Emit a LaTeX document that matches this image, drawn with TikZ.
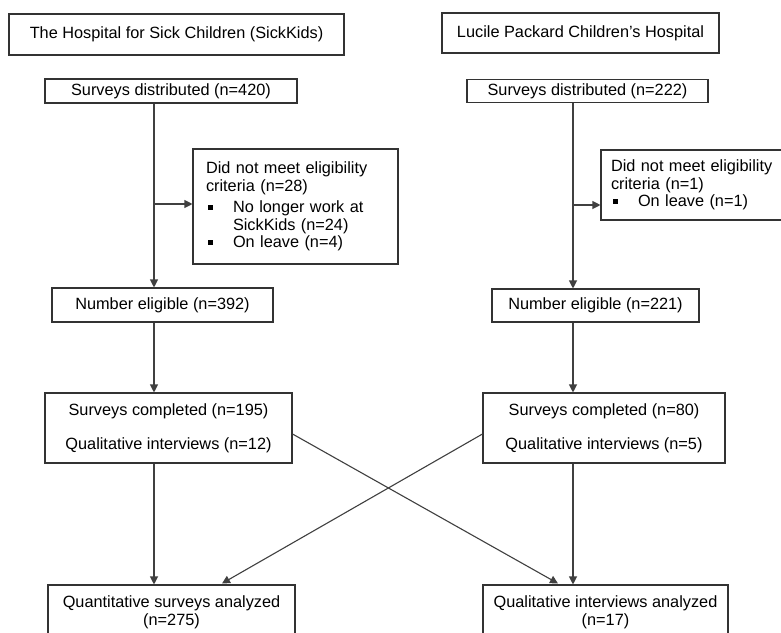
\documentclass[tikz,border=0pt]{standalone}
\usepackage{fontspec}
\setmainfont{Liberation Sans}
\usetikzlibrary{arrows.meta,calc}
\newcommand{\blt}{\rule[3pt]{4.5pt}{4.5pt}}
\begin{document}
\begin{tikzpicture}[x=1pt,y=-1pt,
  box/.style={draw=black!80,line width=1.1pt,rectangle,inner sep=0pt,align=center,
    font=\fontsize{16.3}{17.6}\selectfont},
  lbox/.style={box,align=left,anchor=center},
  arr/.style={draw=black!75,line width=1.1pt,-{Triangle[length=8pt,width=8pt]}},
  ln/.style={draw=black!75,line width=1.1pt}]
\useasboundingbox (0,0) rectangle (781,632);
\clip (0,0) rectangle (781,632);
\fill[white] (0,0) rectangle (781,632);

% titles
\node[box,minimum width=335pt,minimum height=41pt] (t1) at (176.5,34.5) {The Hospital for Sick Children (SickKids)};
\node[box,minimum width=277pt,minimum height=40pt] (t2) at (580.5,33) {Lucile Packard Children’s Hospital};

% distributed
\node[box,minimum width=252pt,minimum height=24pt] (d1) at (171,91) {Surveys distributed (n=420)};
\node[box,minimum width=241pt,minimum height=23pt] (d2) at (587.5,91) {Surveys distributed (n=222)};

% exclusions
\node[lbox,minimum width=205pt,minimum height=115pt,text width=179pt,inner xsep=13pt] (x1) at (295.5,206.5)
  {Did not meet eligibility\\ criteria (n=28)\\[4pt]
   \makebox[27pt][l]{\hspace{2pt}\blt}No longer work at\\
   \hspace*{27pt}SickKids (n=24)\\
   \makebox[27pt][l]{\hspace{2pt}\blt}On leave (n=4)};
\node[lbox,minimum width=199pt,minimum height=70pt,text width=179pt,inner xsep=10pt] (x2) at (700.5,185)
  {Did not meet eligibility\\ criteria (n=1)\\
   \makebox[27pt][l]{\hspace{2pt}\blt}On leave (n=1)};

% eligible
\node[box,minimum width=221pt,minimum height=34pt] (e1) at (162.5,305) {Number eligible (n=392)};
\node[box,minimum width=207pt,minimum height=33pt] (e2) at (595.5,305.5) {Number eligible (n=221)};

% completed
\node[box,minimum width=247pt,minimum height=70pt] (c1) at (168.5,428)
  {Surveys completed (n=195)\\[16.4pt] Qualitative interviews (n=12)};
\node[box,minimum width=242pt,minimum height=70pt] (c2) at (604,428)
  {Surveys completed (n=80)\\[16.4pt] Qualitative interviews (n=5)};

% analyzed
\node[box,minimum width=247pt,minimum height=55pt] (q1) at (171.5,612.5)
  {Quantitative surveys analyzed\\ (n=275)};
\node[box,minimum width=245pt,minimum height=55pt] (q2) at (605.5,612.5)
  {Qualitative interviews analyzed\\ (n=17)};

% guide coordinates
\coordinate (lx) at (154,0);
\coordinate (rx) at (573,0);
\coordinate (ly) at (0,204);
\coordinate (ry) at (0,205);
\coordinate (q1tip) at (222,0);
\coordinate (q2tip) at (558,0);

% left column
\draw[arr] (d1.south -| lx) -- (e1.north -| lx);
\draw[arr] (lx |- ly) -- (x1.west |- ly);
\draw[arr] (e1.south -| lx) -- (c1.north -| lx);
\draw[arr] (c1.south -| lx) -- (q1.north -| lx);

% right column
\draw[arr] (d2.south -| rx) -- (e2.north -| rx);
\draw[arr] (rx |- ry) -- (x2.west |- ry);
\draw[arr] (e2.south -| rx) -- (c2.north -| rx);
\draw[arr] (c2.south -| rx) -- (q2.north -| rx);

% crossing
\draw[arr] ([yshift=-6pt]c1.east) -- ([yshift=1pt]q2.north -| q2tip);
\draw[arr] ([yshift=-6pt]c2.west) -- ([yshift=1pt]q1.north -| q1tip);
\end{tikzpicture}
\end{document}
